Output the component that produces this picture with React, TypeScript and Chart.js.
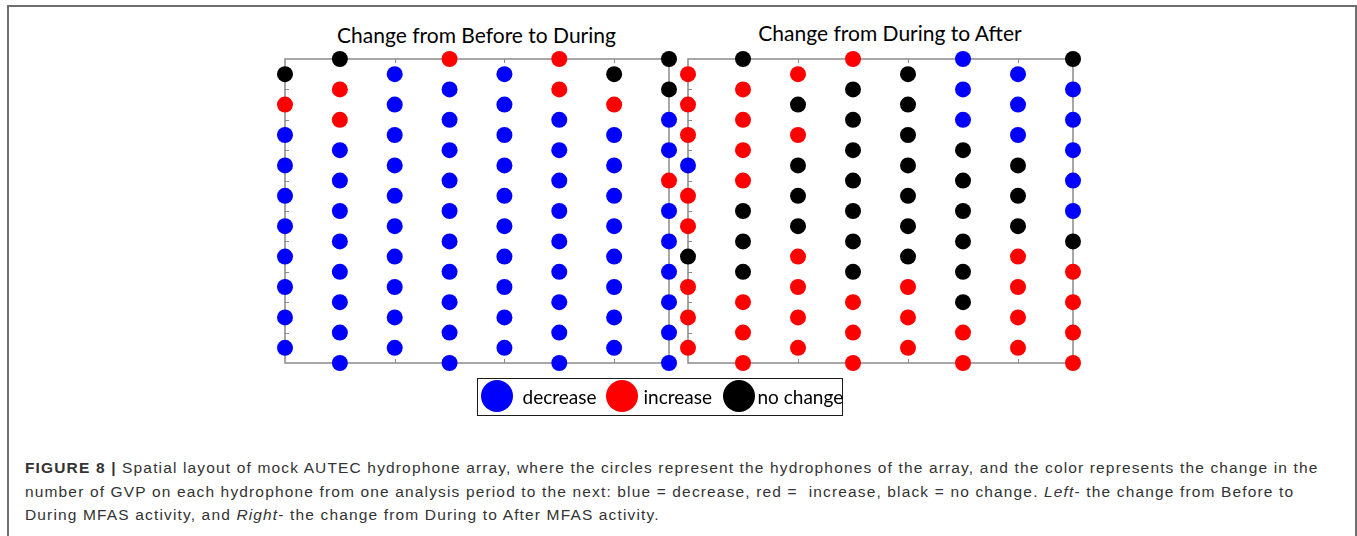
import React, { useEffect, useRef } from "react";
import { Chart, registerables } from "chart.js";

Chart.register(...registerables);

// ---- data -------------------------------------------------------------
const panelTitles = ["Change from Before to During", "Change from During to After"];
const legendLabels = ["decrease", "increase", "no change"];
const legendCodes = ["B", "R", "K"];
const legendColors = ["#0000ff", "#ff0000", "#000000"];

// each string = one column of hydrophones, read top to bottom
// (even columns hold 10 hydrophones, odd columns hold 11, staggered by half a row)
const beforeToDuring = [
  "KRBBBBBBBB",
  "KRRBBBBBBBB",
  "BBBBBBBBBB",
  "RBBBBBBBBBB",
  "BBBBBBBBBB",
  "RRBBBBBBBBB",
  "KRBBBBBBBB",
  "KKBBRBBBBBB",
];
const duringToAfter = [
  "RRRBRRKRRR",
  "KRRRRKKKRRR",
  "RKRKKKRRRR",
  "RKKKKKKKRRR",
  "KKKKKKKRRR",
  "BBBKKKKKKRR",
  "BBBKKKRRRR",
  "KBBBBBKRRRR",
];

const rowTickValues = [2, 4, 6, 8, 10, 12, 14, 16, 18];
const colTickValues = [2, 4, 6];

const captionLine1 =
  " Spatial layout of mock AUTEC hydrophone array, where the circles represent the hydrophones of the array, and the color represents the change in the";
const captionLine2a =
  "number of GVP on each hydrophone from one analysis period to the next: blue = decrease, red =  increase, black = no change. ";
const captionLine2b = "- the change from Before to";
const captionLine3a = "During MFAS activity, and ";
const captionLine3b = "- the change from During to After MFAS activity.";

// ---- helpers ----------------------------------------------------------
function buildDatasets(cols: string[]) {
  return legendCodes.map((code, i) => {
    const data: { x: number; y: number }[] = [];
    cols.forEach((col, x) => {
      col.split("").forEach((c, j) => {
        if (c === code) data.push({ x, y: (x % 2 === 0 ? 1 : 0) + 2 * j });
      });
    });
    return {
      label: legendLabels[i],
      data,
      backgroundColor: legendColors[i],
      borderColor: legendColors[i],
      borderWidth: 0,
      pointRadius: 8,
      pointHoverRadius: 8,
      clip: false as any,
    };
  });
}

const boxPlugin = {
  id: "matlabBox",
  beforeDatasetsDraw(chart: any) {
    const { ctx, chartArea, scales } = chart;
    const { left, top, right, bottom } = chartArea;
    ctx.save();
    ctx.strokeStyle = "#8a8a8a";
    ctx.lineWidth = 1.5;
    ctx.strokeRect(left, top, right - left, bottom - top);
    ctx.lineWidth = 1;
    ctx.beginPath();
    rowTickValues.forEach((v) => {
      const py = Math.round(scales.y.getPixelForValue(v)) + 0.5;
      ctx.moveTo(left, py);
      ctx.lineTo(left + 4, py);
    });
    colTickValues.forEach((v) => {
      const px = Math.round(scales.x.getPixelForValue(v)) + 0.5;
      ctx.moveTo(px, top);
      ctx.lineTo(px, top + 4);
      ctx.moveTo(px, bottom);
      ctx.lineTo(px, bottom - 4);
    });
    ctx.stroke();
    ctx.restore();
  },
};

function Panel({ cols, left }: { cols: string[]; left: number }) {
  const ref = useRef<HTMLCanvasElement | null>(null);
  useEffect(() => {
    if (!ref.current) return;
    const chart = new Chart(ref.current, {
      type: "scatter",
      data: { datasets: buildDatasets(cols) as any },
      options: {
        responsive: false,
        animation: false,
        events: [],
        layout: { padding: 20 },
        plugins: { legend: { display: false }, tooltip: { enabled: false }, title: { display: false } },
        scales: {
          x: { type: "linear", min: 0, max: 7, display: false },
          y: { type: "linear", min: 0, max: 20, reverse: true, display: false },
        },
      },
      plugins: [boxPlugin],
    });
    return () => chart.destroy();
  }, [cols]);
  const w = left === 265 ? 424 : 425;
  return (
    <canvas
      ref={ref}
      width={w}
      height={344}
      style={{ position: "absolute", left, top: 39, width: w, height: 344 }}
    />
  );
}

const titleFont = "Lato, 'Open Sans', sans-serif";

export default function App() {
  return (
    <div
      style={{
        position: "absolute",
        left: 0,
        top: 0,
        width: 1357,
        height: 536,
        overflow: "hidden",
        background: "#fff",
      }}
    >
      <div
        style={{
          position: "absolute",
          left: 7,
          top: 5,
          width: 1346,
          height: 600,
          borderLeft: "2px solid #6e6e6e",
          borderTop: "2px solid #6e6e6e",
          borderRight: "2px solid #6e6e6e",
        }}
      />
      <div
        style={{
          position: "absolute",
          left: 476.5,
          top: 22.5,
          transform: "translateX(-50%)",
          font: `21px ${titleFont}`,
          lineHeight: "24px",
          whiteSpace: "nowrap",
          color: "#000",
        }}
      >
        {panelTitles[0]}
      </div>
      <div
        style={{
          position: "absolute",
          left: 890,
          top: 20.5,
          transform: "translateX(-50%)",
          font: `21px ${titleFont}`,
          lineHeight: "24px",
          whiteSpace: "nowrap",
          color: "#000",
        }}
      >
        {panelTitles[1]}
      </div>
      <Panel cols={beforeToDuring} left={265} />
      <Panel cols={duringToAfter} left={668} />

      {/* legend */}
      <div
        style={{
          position: "absolute",
          left: 477,
          top: 378,
          width: 364,
          height: 36,
          border: "1.5px solid #1a1a1a",
        }}
      >
        {legendLabels.map((lab, i) => {
          const cx = [20, 145, 262][i];
          const tx = [46, 167, 281][i];
          return (
            <React.Fragment key={lab}>
              <div
                style={{
                  position: "absolute",
                  left: cx - 16 - 1.5,
                  top: 2.5 - 1.5,
                  width: 32,
                  height: 32,
                  borderRadius: "50%",
                  background: legendColors[i],
                }}
              />
              <div
                style={{
                  position: "absolute",
                  left: tx - 1.5,
                  top: 6,
                  font: `19px ${titleFont}`,
                  lineHeight: "24px",
                  whiteSpace: "nowrap",
                  color: "#000",
                }}
              >
                {lab}
              </div>
            </React.Fragment>
          );
        })}
      </div>

      {/* caption */}
      <div
        style={{
          position: "absolute",
          left: 25,
          top: 456,
          font: "15.5px 'Liberation Sans', Arial, sans-serif",
          letterSpacing: "1.15px",
          lineHeight: "23.5px",
          color: "#333",
          whiteSpace: "pre",
        }}
      >
        <div>
          <b>FIGURE 8 |</b>
          {captionLine1}
        </div>
        <div>
          {captionLine2a}
          <i>Left</i>
          {captionLine2b}
        </div>
        <div>
          {captionLine3a}
          <i>Right</i>
          {captionLine3b}
        </div>
      </div>
    </div>
  );
}
